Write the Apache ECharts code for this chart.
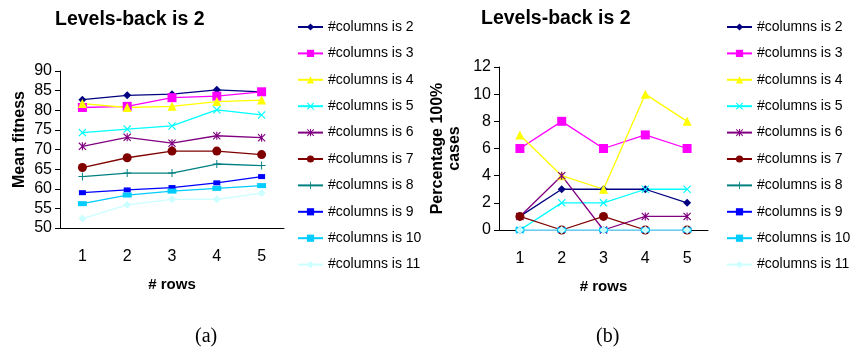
<!DOCTYPE html>
<html>
<head>
<meta charset="utf-8">
<script src="https://cdn.jsdelivr.net/npm/echarts@6/dist/echarts.min.js"></script>
<style>
  html, body { margin: 0; padding: 0; background: #fff; }
  #chart { width: 853px; height: 351px; }
</style>
</head>
<body>
<div id="chart"></div>
<script>
// x axis: number of rows
const rows = ['1', '2', '3', '4', '5']
const seriesNames = ['#columns is 2', '#columns is 3', '#columns is 4', '#columns is 5', '#columns is 6',
  '#columns is 7', '#columns is 8', '#columns is 9', '#columns is 10', '#columns is 11']

// (a) mean fitness, one array per #columns
const fitnessCols2 = [82.7, 83.8, 84.1, 85.2, 84.7]
const fitnessCols3 = [80.7, 81.0, 83.2, 83.6, 84.7]
const fitnessCols4 = [81.7, 80.7, 81.0, 82.2, 82.6]
const fitnessCols5 = [74.3, 75.2, 76.0, 80.1, 78.8]
const fitnessCols6 = [70.8, 73.1, 71.6, 73.5, 73.0]
const fitnessCols7 = [65.4, 67.9, 69.6, 69.6, 68.7]
const fitnessCols8 = [63.1, 64.0, 64.0, 66.3, 65.9]
const fitnessCols9 = [59.0, 59.7, 60.3, 61.5, 63.1]
const fitnessCols10 = [56.2, 58.4, 59.4, 60.1, 60.8]
const fitnessCols11 = [52.4, 55.9, 57.3, 57.3, 58.9]

// (b) percentage of 100% cases
const successCols2 = [1, 3, 3, 3, 2]
const successCols3 = [6, 8, 6, 7, 6]
const successCols4 = [7, 4, 3, 10, 8]
const successCols5 = [0, 2, 2, 3, 3]
const successCols6 = [1, 4, 0, 1, 1]
const successCols7 = [1, 0, 1, 0, 0]
const successCols8 = [0, 0, 0, 0, 0]
const successCols9 = [0, 0, 0, 0, 0]
const successCols10 = [0, 0, 0, 0, 0]
const successCols11 = [0, 0, 0, 0, 0]

const fitnessTicks = [50, 90, 5] // min, max, step
const successTicks = [0, 12, 2]

const fitnessData = [fitnessCols2, fitnessCols3, fitnessCols4, fitnessCols5, fitnessCols6,
  fitnessCols7, fitnessCols8, fitnessCols9, fitnessCols10, fitnessCols11]
const successData = [successCols2, successCols3, successCols4, successCols5, successCols6,
  successCols7, successCols8, successCols9, successCols10, successCols11]

// excel-ish marker styles
const X_PATH = 'path://M0,1L1,0L5,4L9,0L10,1L6,5L10,9L9,10L5,6L1,10L0,9L4,5Z'
const STAR_PATH = 'path://M0,1L1,0L5,4L9,0L10,1L6,5L10,9L9,10L5,6L1,10L0,9L4,5ZM4.3,0H5.7V10H4.3Z'
const PLUS_PATH = 'path://M4.4,0H5.6V4.4H10V5.6H5.6V10H4.4V5.6H0V4.4H4.4Z'

const looks = [
  { color: '#000080', symbol: 'diamond', size: 8 },
  { color: '#FF00FF', symbol: 'rect', size: 9 },
  { color: '#FFFF00', symbol: 'triangle', size: 9 },
  { color: '#00FFFF', symbol: X_PATH, size: 8 },
  { color: '#800080', symbol: STAR_PATH, size: 8 },
  { color: '#800000', symbol: 'circle', size: 9 },
  { color: '#008080', symbol: PLUS_PATH, size: 8 },
  { color: '#0000FF', symbol: 'rect', size: [7, 5] },
  { color: '#00CCFF', symbol: 'rect', size: [9, 5] },
  { color: '#CCFFFF', symbol: 'diamond', size: 8 }
]

const FONT = 'Liberation Sans, Arial, sans-serif'

function makeSeries(data, idx) {
  return data.map(function(vals, i) {
    return {
      name: seriesNames[i],
      type: 'line',
      xAxisIndex: idx,
      yAxisIndex: idx,
      data: vals,
      symbol: looks[i].symbol,
      symbolSize: looks[i].size,
      showAllSymbol: true,
      animation: false,
      lineStyle: { color: looks[i].color, width: 1.3 },
      itemStyle: { color: looks[i].color }
    }
  })
}

function xAxis(idx) {
  return {
    type: 'category',
    gridIndex: idx,
    data: rows,
    boundaryGap: true,
    name: '# rows',
    nameLocation: 'middle',
    nameGap: 49,
    nameTextStyle: { fontFamily: FONT, fontSize: 15, fontWeight: 'bold', color: '#000' },
    axisLine: { lineStyle: { color: '#000', width: 1 } },
    axisTick: { length: 5, lineStyle: { color: '#000' } },
    axisLabel: { fontFamily: FONT, fontSize: 16, color: '#000', margin: 21 },
    splitLine: { show: false }
  }
}

function yAxis(idx, ticks, name, gap, pad, lh) {
  return {
    type: 'value',
    gridIndex: idx,
    min: ticks[0],
    max: ticks[1],
    interval: ticks[2],
    name: name,
    nameLocation: 'middle',
    nameRotate: 90,
    nameGap: gap,
    nameTextStyle: { fontFamily: FONT, fontSize: 16, fontWeight: 'bold', color: '#000', padding: pad, lineHeight: lh },
    axisLine: { show: true, lineStyle: { color: '#000', width: 1 } },
    axisTick: { show: true, length: 5, lineStyle: { color: '#000' } },
    axisLabel: { fontFamily: FONT, fontSize: 16, color: '#000', margin: 8 },
    splitLine: { show: false }
  }
}

function legend(left) {
  return {
    orient: 'vertical',
    left: left,
    top: 15,
    itemGap: 12.4,
    itemWidth: 25,
    itemHeight: 9,
    selectedMode: false,
    data: seriesNames,
    textStyle: { fontFamily: FONT, fontSize: 14, color: '#000' }
  }
}

const chart = echarts.init(document.getElementById('chart'))

chart.setOption({
  backgroundColor: '#fff',
  animation: false,
  title: [
    { text: 'Levels-back is 2', left: 50, top: 5, textStyle: { fontFamily: FONT, fontSize: 19.5, fontWeight: 'bold', color: '#000' } },
    { text: 'Levels-back is 2', left: 476, top: 4, textStyle: { fontFamily: FONT, fontSize: 19.5, fontWeight: 'bold', color: '#000' } }
  ],
  legend: [legend(292), legend(721)],
  grid: [
    { left: 60, top: 71, width: 224, height: 157 },
    { left: 499, top: 67, width: 209, height: 163 }
  ],
  xAxis: [xAxis(0), xAxis(1)],
  yAxis: [
    yAxis(0, fitnessTicks, 'Mean fitness', 31, [0, 0, 0, 20], 18),
    yAxis(1, successTicks, 'Percentage 100%\ncases', 36, 0, 17)
  ],
  graphic: [
    { type: 'text', left: 195, top: 327, style: { text: '(a)', font: '20px Liberation Serif, Times New Roman, serif', fill: '#000' } },
    { type: 'text', left: 596, top: 327, style: { text: '(b)', font: '20px Liberation Serif, Times New Roman, serif', fill: '#000' } }
  ],
  series: makeSeries(fitnessData, 0).concat(makeSeries(successData, 1))
})
</script>
</body>
</html>
